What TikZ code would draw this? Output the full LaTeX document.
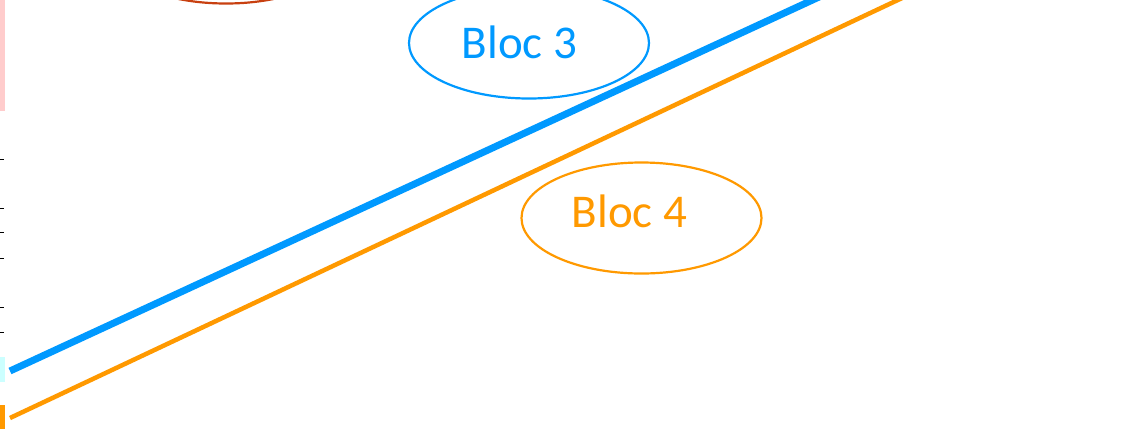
\documentclass[tikz,border=0pt]{standalone}
\usepackage{fontspec}
\setmainfont{Carlito}
\usetikzlibrary{shapes.geometric}
\definecolor{cblue}{RGB}{0,153,255}
\definecolor{corange}{RGB}{255,153,0}
\definecolor{cred}{RGB}{200,64,16}
\definecolor{cpink}{RGB}{255,204,204}
\definecolor{ccyan}{RGB}{204,255,255}
\tikzset{
  bloc/.style={ellipse, draw=#1, line width=2.2pt, minimum width=240pt, minimum height=111pt, inner sep=0pt},
  bloctext/.style={text=#1, font=\fontsize{47}{47}\selectfont, inner sep=0pt},
  tick/.style={draw=black, line width=1pt},
}
\begin{document}
\begin{tikzpicture}[x=1pt,y=-1pt]
\useasboundingbox (0,0) rectangle (1135,429);
\clip (0,0) rectangle (1135,429);
% left strip
\fill[cpink] (0,0) rectangle (5,111);
\fill[ccyan] (0,357) rectangle (5,382);
\fill[corange] (0,405) rectangle (5,429);
\foreach \y in {159,208,232,258,307,332} \draw[tick] (0,\y) -- (4,\y);
% ellipses
\node[bloc=cred] (b2) at (226,-52) {};
\node[bloc=cblue] (b3) at (529,43) {};
\node[bloctext=cblue] (t3) at (519.5,42) {Bloc 3};
\node[bloc=corange] (b4) at (641.5,218) {};
\node[bloctext=corange] (t4) at (629.5,211) {Bloc 4};
% lines
\coordinate (bs) at (10,371);
\coordinate (be) at (832,-9);
\coordinate (os) at (10,418);
\coordinate (oe) at (917,-9);
\draw[cblue, line width=7pt] (bs) -- (be);
\draw[corange, line width=4.5pt] (os) -- (oe);
\end{tikzpicture}
\end{document}
